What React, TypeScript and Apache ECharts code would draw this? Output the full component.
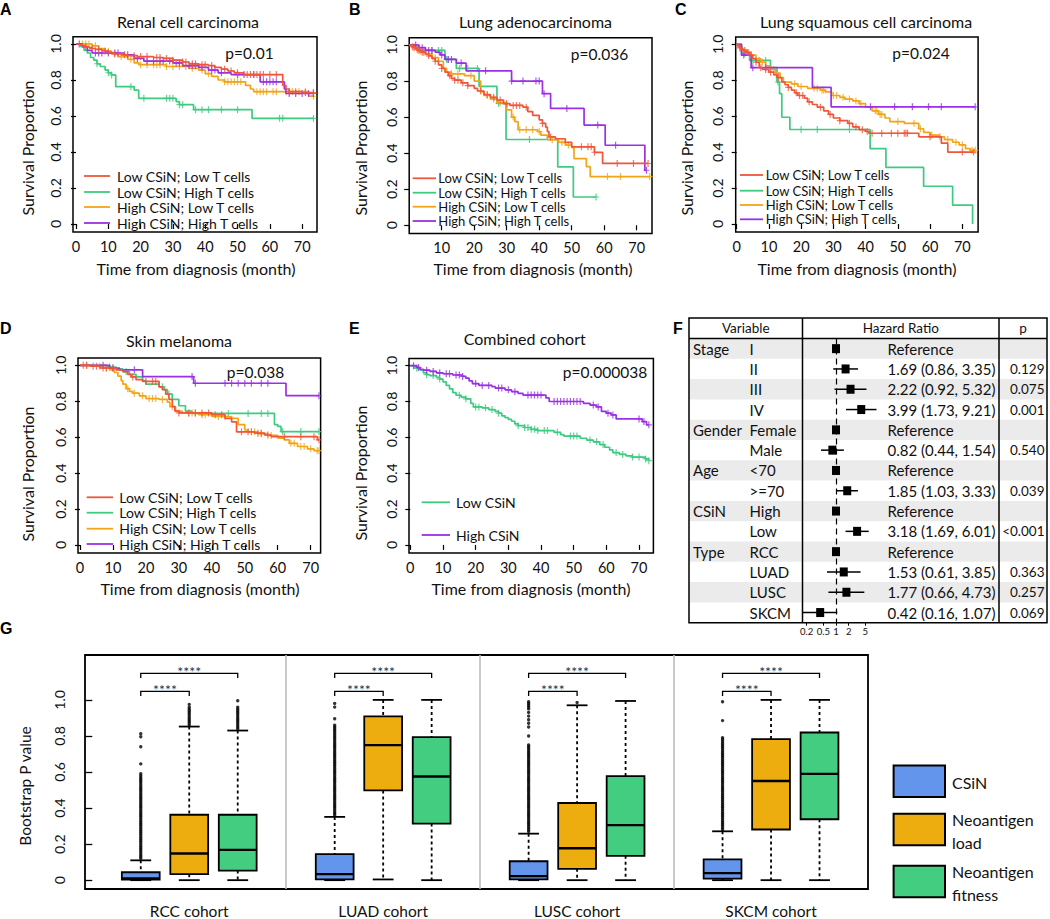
import React, { useEffect, useRef } from 'react';
import * as echarts from 'echarts';

const FONT = 'Lato, "Open Sans", "DejaVu Sans", sans-serif';
const INK = '#111111';

// ---------------- Kaplan-Meier panels ----------------
const KM_LEGEND_4 = ['Low CSiN; Low T cells', 'Low CSiN; High T cells', 'High CSiN; Low T cells', 'High CSiN; High T cells'];
const KM_LEGEND_2 = ['Low CSiN', 'High CSiN'];
const KM_TITLES = ['Renal cell carcinoma', 'Lung adenocarcinoma', 'Lung squamous cell carcinoma', 'Skin melanoma', 'Combined cohort'];
const KM_LETTERS = ['A', 'B', 'C', 'D', 'E'];
const KM_P = ['p=0.01', 'p=0.036', 'p=0.024', 'p=0.038', 'p=0.000038'];
const KM_X_TICKS = [0, 10, 20, 30, 40, 50, 60, 70];
const KM_Y_TICKS = [0, 0.2, 0.4, 0.6, 0.8, 1];
const KM_X_NAME = 'Time from diagnosis (month)';
const KM_Y_NAME = 'Survival Proportion';

// A: Renal cell carcinoma  [time, survival] at events ; censor times
const A_LL = [[0,1],[1,0.995],[2,0.99],[3,0.985],[4,0.98],[5,0.975],[6,0.97],[8,0.965],[9,0.96],[10,0.955],[11,0.95],[12,0.945],[14,0.94],[16,0.935],[19,0.93],[24,0.925],[27,0.92],[30,0.91],[33,0.9],[35,0.89],[38,0.885],[41,0.88],[43,0.87],[45,0.86],[47,0.85],[49,0.84],[52,0.83],[64,0.77],[65,0.75],[66,0.735],[70,0.73]];
const A_LL_C = [3,5,7,9,12,15,18,20,22,25,26,28,30,33,34,36,37,39,40,42,46,48,50,53,54,55,56,57,58,60,62,66,68,71,73.5];
const A_LH = [[0,1],[1.5,0.985],[2.5,0.965],[3.5,0.95],[4.5,0.925],[5.5,0.91],[6.5,0.89],[7.5,0.875],[9,0.855],[10,0.84],[11,0.828],[12.3,0.763],[18,0.744],[19.4,0.698],[31,0.68],[32,0.663],[36.4,0.635],[54.5,0.587]];
const A_LH_C = [6.5,10,11,17,21,28,29,30,32,33,37,39,41,45,50,63,64,73.5];
const A_HL = [[0,1],[5,0.99],[7,0.975],[9,0.96],[11,0.945],[13,0.93],[16,0.915],[18,0.895],[19.5,0.885],[28,0.875],[35,0.865],[38,0.855],[40,0.835],[42,0.82],[44,0.8],[46,0.79],[52.5,0.77],[54,0.75],[55,0.735],[72,0.71]];
const A_HL_C = [2,3,4,6,10,14,17,20,22,24,25,26,28,30,32,34,36,39,41,46,47,48,49,50,51,56,57,58,59,61,62,65,67,69,71,73.5];
const A_HH = [[0,1],[2,0.985],[3.5,0.965],[5,0.95],[15,0.94],[18,0.92],[21,0.905],[30,0.895],[33,0.88],[38,0.87],[41,0.855],[44,0.84],[48,0.83],[57,0.79],[64.5,0.75],[65,0.725]];
const A_HH_C = [1,6,7,8,10,12,13,16,19,22,24,26,27,29,31,32,35,36,37,39,42,43,45,50,52,55,58,59,60,61,62,66,68,70,72,73.5];

// B: Lung adenocarcinoma
const B_LL = [[0,1],[0.5,0.995],[1,0.99],[1.5,0.985],[2,0.98],[2.5,0.975],[3,0.97],[3.5,0.965],[4,0.96],[5,0.95],[6,0.94],[7,0.925],[8,0.91],[9,0.89],[10,0.87],[11,0.85],[12,0.83],[13,0.815],[14,0.805],[16,0.79],[18,0.775],[20,0.76],[21,0.745],[23,0.725],[25,0.71],[27,0.695],[29,0.675],[31,0.665],[35,0.655],[36.5,0.63],[38,0.61],[40,0.585],[41,0.565],[42,0.545],[42.5,0.52],[43,0.49],[45,0.48],[48,0.46],[50,0.435],[57,0.405],[59.5,0.343]];
const B_LL_C = [1,1.5,2.5,3,4,4.5,6,8,10,12.5,14,15,16.5,18,22,24,26,28,30,32,33,34,36,41,43.5,53,55,56,57,64,69,73.5];
const B_LH = [[0,1],[2,0.985],[3,0.97],[11,0.92],[14.5,0.87],[21.5,0.77],[27,0.676],[29.8,0.476],[45.7,0.324],[50.5,0.157]];
const B_LH_C = [5,7,9,10,11.5,12,15.5,18,21,27.5,37,57.5];
const B_HL = [[0,1],[1,0.99],[2,0.98],[3,0.965],[5,0.95],[7,0.93],[9,0.91],[10.5,0.87],[11.5,0.85],[13,0.84],[17,0.83],[20,0.8],[22,0.74],[23,0.72],[25,0.7],[27,0.68],[30,0.64],[31.5,0.6],[32.5,0.575],[33.5,0.53],[39.5,0.52],[40.5,0.5],[42.5,0.475],[46,0.46],[48,0.445],[50,0.43],[50.7,0.37],[54.5,0.325],[55.7,0.27]];
const B_HL_C = [1.5,3.5,6,8,13,15,19,24,26,28,32,34,36,38,40,44,47,49,61,65,74];
const B_HH = [[0,1],[3,0.985],[5,0.97],[8,0.96],[9.5,0.945],[11,0.92],[14.5,0.9],[17.5,0.857],[31.5,0.8],[41,0.73],[43.5,0.648],[53.8,0.556],[60.3,0.444],[72.5,0.305]];
const B_HH_C = [2,4,6,7,10,12,13,16,23.5,31.5,35,39,40,41.5,48.5,58,63.5,73];

// C: Lung squamous cell carcinoma
const C_LL = [[0,1],[0.5,0.99],[1,0.98],[1.5,0.975],[2,0.965],[3,0.955],[4,0.94],[5,0.92],[6,0.9],[7,0.87],[8,0.86],[10,0.845],[11.5,0.83],[12.5,0.815],[14,0.79],[15,0.775],[16,0.76],[17,0.745],[18,0.73],[19,0.715],[21,0.7],[22,0.68],[23.5,0.665],[25,0.65],[27,0.63],[28.5,0.61],[30,0.59],[32,0.575],[34.5,0.56],[36,0.54],[38,0.525],[40,0.515],[41,0.505],[56.5,0.485],[63.5,0.45],[65.5,0.4]];
const C_LL_C = [1,2.5,3.5,4.5,6,7.5,9,10.5,13,16,18.5,19.5,20.5,22.5,26,29,32,35,37,39,40.5,42,45,48,50,52,52.5,53,60,70,73.5];
const C_LH = [[0,1],[1.5,0.95],[4,0.91],[10.5,0.87],[12.5,0.79],[13.3,0.725],[14,0.594],[16.5,0.526],[41.4,0.42],[46.3,0.315],[58,0.21],[67,0.105],[73.2,0]];
const C_LH_C = [2.5,5,7,9,12.8,20,25,35];
const C_HL = [[0,1],[0.5,0.985],[1.5,0.97],[3,0.955],[4.5,0.94],[6,0.92],[7.5,0.9],[9,0.88],[10.5,0.86],[12,0.84],[13.5,0.815],[14.5,0.79],[17,0.78],[19,0.765],[22,0.755],[26,0.745],[27.5,0.735],[29.5,0.715],[32,0.705],[33.5,0.695],[36,0.685],[38,0.67],[40,0.65],[42,0.63],[44,0.61],[46,0.59],[47.5,0.57],[52,0.56],[56.5,0.53],[58,0.51],[60,0.495],[63,0.485],[64.5,0.47],[67,0.455],[69,0.44],[71,0.42],[72.5,0.41]];
const C_HL_C = [1,3.5,8,11.5,18,20,24,25,26.5,27,30,31,33,35,37,38.5,43,43.5,44.5,45,50,55,57,60.5,63,65.5,68,70,73,74];
const C_HH = [[0,1],[1.5,0.94],[4.5,0.87],[23.5,0.76],[29.3,0.652]];
const C_HH_C = [2.2,5,9,41.5,49,54.5,59.5,63.5,74];

// D: Skin melanoma
const D_LL = [[0,1],[3,0.995],[6,0.985],[11,0.975],[13,0.965],[14.5,0.95],[15.5,0.935],[17,0.92],[19,0.91],[24,0.88],[25,0.865],[26,0.84],[27,0.81],[28,0.77],[28.8,0.745],[30,0.735],[40,0.725],[44,0.705],[46,0.685],[47.5,0.63],[53,0.622],[56,0.612],[58,0.603],[72,0.585]];
const D_LL_C = [1,2,4,5,7,8,10,16,20,22,23,30,33,35,37,39,41,43,49,51,52,54,55,57,62,67,71,72.5];
const D_LH = [[0,1],[8,0.99],[11,0.98],[13,0.965],[15,0.95],[17,0.935],[19,0.915],[20,0.895],[24,0.88],[25.5,0.865],[26.5,0.84],[28,0.81],[30,0.775],[32,0.745],[34,0.732],[59,0.67],[60,0.66],[61,0.631]];
const D_LH_C = [9,14,25,27,45,51,55,57,61.5,67,72.5];
const D_HL = [[0,1],[4,0.995],[7,0.985],[9,0.975],[10.5,0.96],[11.5,0.94],[12.5,0.915],[13,0.895],[14,0.87],[15,0.855],[16,0.845],[18,0.83],[20,0.815],[24,0.81],[26.5,0.795],[27.3,0.77],[29,0.745],[31,0.735],[36,0.725],[40,0.715],[46,0.705],[48,0.67],[50,0.64],[51,0.63],[54,0.62],[57,0.61],[60,0.595],[62,0.585],[63.5,0.566],[66,0.548],[69,0.535],[71,0.525]];
const D_HL_C = [2,6,8,14.5,16.5,19,21,22,23,25,28,33,34,35,37,38,42,44,53,55,58,64,65,67,68,70,72,72.5];
const D_HH = [[0,1],[9,0.985],[12,0.975],[19,0.937],[34.5,0.9],[62.5,0.831]];
const D_HH_C = [7,10,16.5,34,35,44,46,48,50,52,55,57,72.5];

// E: Combined cohort
const E_LOW = [[0,1],[1,0.995],[2,0.985],[3,0.975],[4,0.96],[5,0.95],[6,0.945],[8,0.935],[9,0.925],[10,0.91],[11,0.89],[12,0.87],[13,0.85],[14,0.835],[15.5,0.825],[17,0.815],[18.5,0.79],[19.3,0.77],[22,0.765],[24,0.755],[26,0.745],[27,0.735],[28,0.72],[29,0.71],[30,0.7],[31,0.69],[32,0.675],[33,0.665],[35,0.655],[37,0.645],[39,0.638],[44,0.628],[46,0.615],[47,0.607],[52,0.595],[54,0.585],[56,0.575],[58,0.56],[59.5,0.545],[61,0.53],[62,0.515],[64,0.505],[66,0.497],[68,0.49],[72,0.48],[73,0.47]];
const E_LOW_C = [2,5,7,9,15,17,20,21,23,25,27,33,35,36,37,38,39,41,42,45,49,50,51,55,57,59,63,65,68,70,72,73];
const E_HIGH = [[0,1],[2,0.99],[3,0.98],[4,0.975],[6,0.968],[8,0.96],[10,0.955],[13,0.948],[16,0.94],[17,0.93],[18,0.915],[19,0.9],[21,0.89],[25,0.883],[26,0.875],[29,0.865],[31,0.855],[33,0.845],[34.5,0.836],[41.5,0.82],[42.5,0.8],[53,0.79],[55,0.78],[57,0.77],[58.5,0.745],[60,0.735],[61.5,0.725],[63,0.703],[71,0.688],[72.3,0.67]];
const E_HIGH_C = [1,2.5,5,7,9,11,12,14,15,16,20,22,24,27,28,30,32,36,37,38,39,40,44,45,46,47,48,49,50,51,52,56,57.5,60.5,62,70,71.5,73];

// ---------------- Forest table (F) ----------------
const F_HEADERS = ['Variable', 'Hazard Ratio', 'p'];
const F_VAR = ['Stage', '', '', '', 'Gender', '', 'Age', '', 'CSiN', '', 'Type', '', '', ''];
const F_LEVEL = ['I', 'II', 'III', 'IV', 'Female', 'Male', '<70', '>=70', 'High', 'Low', 'RCC', 'LUAD', 'LUSC', 'SKCM'];
const F_HR = [1, 1.69, 2.22, 3.99, 1, 0.82, 1, 1.85, 1, 3.18, 1, 1.53, 1.77, 0.42];
const F_LO = [NaN, 0.86, 0.92, 1.73, NaN, 0.44, NaN, 1.03, NaN, 1.69, NaN, 0.61, 0.66, 0.16];
const F_HI = [NaN, 3.35, 5.32, 9.21, NaN, 1.54, NaN, 3.33, NaN, 6.01, NaN, 3.85, 4.73, 1.07];
const F_P = ['', '0.129', '0.075', '0.001', '', '0.540', '', '0.039', '', '<0.001', '', '0.363', '0.257', '0.069'];
const F_TICKS = [0.2, 0.5, 1, 2, 5];

// ---------------- Box plots (G) ----------------
const G_GROUPS = ['RCC cohort', 'LUAD cohort', 'LUSC cohort', 'SKCM cohort'];
const G_METHODS = ['CSiN', 'Neoantigen load', 'Neoantigen fitness'];
const G_Y_TICKS = [0, 0.2, 0.4, 0.6, 0.8, 1];
const G_Y_NAME = 'Bootstrap P value';
const G_SIG = '****';
const G_SIG_LEVELS = [1.047, 1.147];
// [lower whisker, Q1, median, Q3, upper whisker] for CSiN, load, fitness
const RCC_BOX = [[0, 0.003, 0.01, 0.044, 0.11], [0, 0.033, 0.148, 0.363, 0.852], [0, 0.053, 0.168, 0.363, 0.83]];
const LUAD_BOX = [[0, 0.004, 0.033, 0.144, 0.351], [0.004, 0.498, 0.749, 0.909, 1.0], [0, 0.314, 0.575, 0.793, 1.0]];
const LUSC_BOX = [[0, 0.004, 0.022, 0.105, 0.258], [0, 0.063, 0.177, 0.428, 0.97], [0, 0.135, 0.305, 0.577, 0.994]];
const SKCM_BOX = [[0, 0.009, 0.039, 0.115, 0.271], [0, 0.281, 0.55, 0.782, 1.0], [0, 0.338, 0.59, 0.819, 1.0]];
const RCC_OUT_CSIN = [0.812,0.795,0.74,0.645,0.59,0.58,0.57,0.56,0.55,0.54,0.53,0.52,0.51,0.5,0.49,0.48,0.47,0.46,0.45,0.44,0.43,0.42,0.41,0.4,0.39,0.38,0.37,0.36,0.35,0.34,0.33,0.32,0.31,0.3,0.29,0.28,0.27,0.26,0.25,0.24,0.23,0.22,0.21,0.2,0.19,0.18,0.17,0.16,0.15,0.14,0.13,0.12];
const RCC_OUT_LOAD = [0.86,0.87,0.88,0.89,0.9,0.91,0.92,0.93,0.94,0.95,0.96,0.975];
const RCC_OUT_FIT = [0.84,0.85,0.86,0.87,0.88,0.89,0.9,0.91,0.92,0.93,0.94,0.95,0.96,0.995];
const LUAD_OUT_CSIN = [0.98,0.96,0.895,0.86,0.85,0.84,0.83,0.82,0.81,0.8,0.79,0.78,0.77,0.76,0.75,0.74,0.73,0.72,0.71,0.7,0.69,0.68,0.67,0.66,0.65,0.64,0.63,0.62,0.61,0.6,0.59,0.58,0.57,0.56,0.55,0.54,0.53,0.52,0.51,0.5,0.49,0.48,0.47,0.46,0.45,0.44,0.43,0.42,0.41,0.4,0.39,0.38,0.37,0.36];
const LUSC_OUT_CSIN = [0.99,0.98,0.97,0.96,0.95,0.93,0.91,0.89,0.87,0.85,0.8,0.75,0.74,0.73,0.72,0.71,0.7,0.69,0.68,0.67,0.66,0.65,0.64,0.63,0.62,0.61,0.6,0.59,0.58,0.57,0.56,0.55,0.54,0.53,0.52,0.51,0.5,0.49,0.48,0.47,0.46,0.45,0.44,0.43,0.42,0.41,0.4,0.39,0.38,0.37,0.36,0.35,0.34,0.33,0.32,0.31,0.3,0.29,0.28,0.27];
const LUSC_OUT_LOAD = [0.985];
const SKCM_OUT_CSIN = [0.99,0.885,0.79,0.78,0.77,0.76,0.75,0.74,0.73,0.72,0.71,0.7,0.69,0.68,0.67,0.66,0.65,0.64,0.63,0.62,0.61,0.6,0.59,0.58,0.57,0.56,0.55,0.54,0.53,0.52,0.51,0.5,0.49,0.48,0.47,0.46,0.45,0.44,0.43,0.42,0.41,0.4,0.39,0.38,0.37,0.36,0.35,0.34,0.33,0.32,0.31,0.3,0.29,0.28];

// ---------------- styles / layout ----------------
const KM_COLORS_4 = ['#F0563A', '#3CCB7F', '#F2A516', '#9B30E6'];
const KM_COLORS_2 = ['#3CCB7F', '#9B30E6'];
const G_COLORS = ['#6495ED', '#EEAD0E', '#43CD80'];
const PLUS = 'path://M4,0H6V10H4Z M0,4.2H10V5.8H0Z';

const KM_LAYOUT = [
  { grid: { left: 73, top: 36.8, width: 244, height: 195.3 }, x: [-0.93, 74.6], hideZero: false, letter: [0, 9], title: [188, 21], p: [249.5, 53], yName: [27, 148], xName: [196, 268], leg: { x1: 84, x2: 110, tx: 117, fs: 14, ys: [176, 192, 207, 223] } },
  { grid: { left: 409.2, top: 37.8, width: 242.8, height: 195.6 }, x: [0, 74.7], hideZero: true, letter: [349, 9], title: [535.5, 21], p: [599.5, 54], yName: [360, 148], xName: [533, 268], leg: { x1: 412.7, x2: 436, tx: 438.3, fs: 13, ys: [178.3, 192.7, 206.7, 221] } },
  { grid: { left: 735.7, top: 37.1, width: 242.4, height: 195 }, x: [-0.3, 74.9], hideZero: false, letter: [675, 9], title: [866, 21], p: [921, 53], yName: [686, 148], xName: [857, 268], leg: { x1: 740, x2: 763, tx: 765.7, fs: 13, ys: [175, 190.7, 205, 219.3] } },
  { grid: { left: 78, top: 358.1, width: 242.6, height: 195 }, x: [-0.6, 73], hideZero: false, letter: [0, 328], title: [179, 340], p: [255.5, 372], yName: [27, 474], xName: [200, 588], leg: { x1: 86.7, x2: 113, tx: 119.3, fs: 14, ys: [497.3, 512.7, 528.7, 544] } },
  { grid: { left: 409, top: 358.5, width: 244.4, height: 194.5 }, x: [-0.4, 74.4], hideZero: false, letter: [349, 328], title: [524.7, 338.3], p: [605, 372], yName: [360, 473], xName: [531, 588], leg: { x1: 421.7, x2: 450, tx: 456, fs: 14, ys: [502.3, 535] } },
];

const KM_CURVES = [
  [[A_LL, A_LL_C], [A_LH, A_LH_C], [A_HL, A_HL_C], [A_HH, A_HH_C]],
  [[B_LL, B_LL_C], [B_LH, B_LH_C], [B_HL, B_HL_C], [B_HH, B_HH_C]],
  [[C_LL, C_LL_C], [C_LH, C_LH_C], [C_HL, C_HL_C], [C_HH, C_HH_C]],
  [[D_LL, D_LL_C], [D_LH, D_LH_C], [D_HL, D_HL_C], [D_HH, D_HH_C]],
  [[E_LOW, E_LOW_C], [E_HIGH, E_HIGH_C]],
];

function survAt(ev: number[][], t: number) {
  let s = 1;
  for (const p of ev) if (p[0] <= t) s = p[1];
  return s;
}
function curvePoints(ev: number[][], cens: number[]) {
  const pts = ev.map((p) => [p[0], p[1]]);
  cens.forEach((c) => pts.push([c, survAt(ev, c)]));
  pts.sort((a, b) => a[0] - b[0]);
  return pts;
}

function txt(text: string, x: number, y: number, size: number, o: any = {}) {
  const align = o.align || 'center';
  const va = o.va || 'middle';
  return {
    type: 'text', x, y, z: 30, silent: true, rotation: o.rot || 0,
    style: {
      text, fill: o.fill || INK, fontSize: size, fontFamily: o.family || FONT, fontWeight: o.weight || 'normal',
      align, verticalAlign: va, textAlign: align, textVerticalAlign: va, lineHeight: o.lh,
    },
  };
}
function seg(x1: number, y1: number, x2: number, y2: number, o: any = {}) {
  return { type: 'line', z: o.z ?? 30, silent: true, shape: { x1, y1, x2, y2 }, style: { stroke: o.stroke || '#000', lineWidth: o.w || 1.5, lineDash: o.dash } };
}
function box(x: number, y: number, w: number, h: number, o: any = {}) {
  return { type: 'rect', z: o.z ?? 30, silent: true, shape: { x, y, width: w, height: h }, style: { fill: o.fill || 'none', stroke: o.stroke || null, lineWidth: o.w || 0 } };
}

function buildOption() {
  const grids: any[] = [];
  const xAxes: any[] = [];
  const yAxes: any[] = [];
  const series: any[] = [];
  const graphics: any[] = [];

  // ----- KM panels
  KM_LAYOUT.forEach((L, gi) => {
    grids.push({ ...L.grid, show: true, borderColor: '#000', borderWidth: 1.5, backgroundColor: 'transparent' });
    xAxes.push({
      gridIndex: gi, type: 'value', min: L.x[0], max: L.x[1],
      axisLine: { show: false }, splitLine: { show: false },
      axisTick: { show: true, length: 5, customValues: KM_X_TICKS, lineStyle: { color: '#000', width: 1.2 } },
      axisLabel: { customValues: L.hideZero ? KM_X_TICKS.slice(1) : KM_X_TICKS, fontSize: 14.5, fontFamily: FONT, color: INK, margin: 7 },
    });
    yAxes.push({
      gridIndex: gi, type: 'value', min: -0.045, max: 1.04,
      axisLine: { show: false }, splitLine: { show: false },
      axisTick: { show: true, length: 5, customValues: KM_Y_TICKS, lineStyle: { color: '#000', width: 1.2 } },
      axisLabel: { customValues: KM_Y_TICKS, rotate: 90, fontSize: 14, fontFamily: FONT, color: INK, margin: 11, formatter: (v: number) => (v === 0 ? '0' : v.toFixed(1)) },
    });
    const curves = KM_CURVES[gi];
    const colors = curves.length === 2 ? KM_COLORS_2 : KM_COLORS_4;
    const names = curves.length === 2 ? KM_LEGEND_2 : KM_LEGEND_4;
    const zOrder = curves.length === 2 ? [4, 5] : [6, 3, 4, 5];
    curves.forEach((c, ci) => {
      const ev = c[0] as number[][];
      const cens = c[1] as number[];
      series.push({
        type: 'line', name: names[ci], xAxisIndex: gi, yAxisIndex: gi, step: 'end', data: curvePoints(ev, cens),
        showSymbol: false, symbol: 'none', silent: true, z: zOrder[ci],
        lineStyle: { color: colors[ci], width: 1.7 }, itemStyle: { color: colors[ci] },
      });
      series.push({
        type: 'scatter', name: names[ci] + ' censored', xAxisIndex: gi, yAxisIndex: gi, silent: true, z: zOrder[ci],
        data: cens.map((t) => [t, survAt(ev, t)]), symbol: PLUS, symbolSize: [6, 7], itemStyle: { color: colors[ci] },
      });
    });
    // texts
    graphics.push(txt(KM_LETTERS[gi], L.letter[0], L.letter[1], 16, { align: 'left', weight: 'bold', family: '"Liberation Sans", Arial, sans-serif', fill: '#000' }));
    graphics.push(txt(KM_TITLES[gi], L.title[0], L.title[1], 16));
    graphics.push(txt(KM_P[gi], L.p[0], L.p[1], 15.5));
    graphics.push(txt(KM_Y_NAME, L.yName[0], L.yName[1], 16, { rot: Math.PI / 2 }));
    graphics.push(txt(KM_X_NAME, L.xName[0], L.xName[1], 16));
    L.leg.ys.forEach((y, k) => {
      graphics.push(seg(L.leg.x1, y, L.leg.x2, y, { stroke: colors[k], w: 1.8 }));
      graphics.push(txt(names[k], L.leg.tx, y, L.leg.fs, { align: 'left', lh: 13 }));
    });
  });

  // ----- Forest panel F
  const T = { left: 689, right: 1047, top: 318, head: 338.5, rowH: 20.3, c1: 802.5, c2: 999 };
  const nRows = F_LEVEL.length;
  const bottom = T.head + nRows * T.rowH;
  const fgi = grids.length;
  grids.push({ left: 803, top: T.head, width: 82, height: nRows * T.rowH, show: false });
  xAxes.push({
    gridIndex: fgi, type: 'value', min: -0.786, max: 1.167,
    axisLine: { show: false }, splitLine: { show: false },
    axisTick: { show: true, length: 3, customValues: F_TICKS.map((v) => Math.log10(v)), lineStyle: { color: '#000', width: 1 } },
    axisLabel: { customValues: F_TICKS.map((v) => Math.log10(v)), fontSize: 9.5, fontFamily: FONT, color: INK, margin: 4, formatter: (v: number) => String(Math.round(Math.pow(10, v) * 10) / 10) },
  });
  yAxes.push({ gridIndex: fgi, type: 'category', inverse: true, data: F_LEVEL.map((_, i) => String(i)), show: false });
  series.push({
    type: 'custom', name: 'Hazard ratio', xAxisIndex: fgi, yAxisIndex: fgi, silent: true, z: 5,
    data: F_HR.map((hr, i) => {
      const has = isNaN(F_LO[i]) ? 0 : 1;
      return [Math.log10(hr), i, has ? Math.log10(F_LO[i]) : Math.log10(hr), has ? Math.log10(F_HI[i]) : Math.log10(hr), has];
    }),
    encode: { x: 0, y: 1 },
    renderItem: (params: any, api: any) => {
      const i = api.value(1);
      const c = api.coord([api.value(0), i]);
      const children: any[] = [];
      if (api.value(4) === 1) {
        const a = api.coord([api.value(2), i]);
        const b = api.coord([api.value(3), i]);
        children.push({ type: 'line', shape: { x1: a[0], y1: a[1], x2: b[0], y2: b[1] }, style: { stroke: '#000', lineWidth: 1.5 } });
      }
      children.push({ type: 'rect', shape: { x: c[0] - 4, y: c[1] - 4.5, width: 8, height: 9 }, style: { fill: '#000' } });
      return { type: 'group', children };
    },
  });
  series.push({
    type: 'scatter', xAxisIndex: fgi, yAxisIndex: fgi, silent: true, data: [[0, 0]], symbolSize: 0, z: 4,
    markLine: { silent: true, symbol: ['none', 'none'], label: { show: false }, lineStyle: { color: '#000', width: 1.2, type: [6, 4] }, data: [{ xAxis: 0 }] },
  });
  // table graphics
  for (let i = 0; i < nRows; i += 2) {
    graphics.push(box(T.left, T.head + i * T.rowH, T.right - T.left, T.rowH, { fill: '#EBEBEB', z: 0 }));
  }
  graphics.push(box(T.left, T.top, T.right - T.left, bottom - T.top, { stroke: '#000', w: 1.5 }));
  graphics.push(seg(T.left, T.head, T.right, T.head, { w: 1.5 }));
  graphics.push(seg(T.c1, T.top, T.c1, bottom, { w: 1.5 }));
  graphics.push(seg(T.c2, T.top, T.c2, bottom, { w: 1.5 }));
  graphics.push(txt(F_HEADERS[0], (T.left + T.c1) / 2, (T.top + T.head) / 2, 13.5));
  graphics.push(txt(F_HEADERS[1], (T.c1 + T.c2) / 2, (T.top + T.head) / 2, 13.5));
  graphics.push(txt(F_HEADERS[2], (T.c2 + T.right) / 2, (T.top + T.head) / 2, 13.5));
  F_LEVEL.forEach((lv, i) => {
    const y = T.head + (i + 0.5) * T.rowH;
    if (F_VAR[i]) graphics.push(txt(F_VAR[i], 693, y, 15, { align: 'left' }));
    graphics.push(txt(lv, 749.5, y, 15, { align: 'left' }));
    const hrText = isNaN(F_LO[i]) ? 'Reference' : `${F_HR[i].toFixed(2)} (${F_LO[i].toFixed(2)}, ${F_HI[i].toFixed(2)})`;
    graphics.push(txt(hrText, 887.5, y, 15, { align: 'left' }));
    if (F_P[i]) graphics.push(txt(F_P[i], 1044.5, y, 13.5, { align: 'right' }));
  });
  graphics.push(txt('F', 673, 328, 16, { align: 'left', weight: 'bold', family: '"Liberation Sans", Arial, sans-serif', fill: '#000' }));

  // ----- Box plot panel G
  const ggi = grids.length;
  grids.push({ left: 85, top: 655, width: 783, height: 238, show: true, borderColor: '#000', borderWidth: 1.8, backgroundColor: 'transparent' });
  xAxes.push({
    gridIndex: ggi, type: 'value', min: -0.15, max: 16,
    axisLine: { show: false }, splitLine: { show: false }, axisTick: { show: false },
    axisLabel: { customValues: G_GROUPS.map((_, g) => 4 * g + 2), fontSize: 15.5, fontFamily: FONT, color: INK, margin: 14, formatter: (v: number) => G_GROUPS[Math.round((v - 2) / 4)] },
  });
  yAxes.push({
    gridIndex: ggi, type: 'value', min: -0.049, max: 1.249,
    axisLine: { show: false }, splitLine: { show: false },
    axisTick: { show: true, length: 7, customValues: G_Y_TICKS, lineStyle: { color: '#000', width: 1.3 } },
    axisLabel: { customValues: G_Y_TICKS, rotate: 90, fontSize: 14, fontFamily: FONT, color: INK, margin: 19, formatter: (v: number) => (v === 0 ? '0' : v.toFixed(1)) },
  });
  const BOX_STATS = [RCC_BOX, LUAD_BOX, LUSC_BOX, SKCM_BOX];
  const BOX_OUT = [[RCC_OUT_CSIN, RCC_OUT_LOAD, RCC_OUT_FIT], [LUAD_OUT_CSIN, [], []], [LUSC_OUT_CSIN, LUSC_OUT_LOAD, []], [SKCM_OUT_CSIN, [], []]];
  // separators
  series.push({
    type: 'scatter', xAxisIndex: ggi, yAxisIndex: ggi, silent: true, data: [], z: 1,
    markLine: { silent: true, symbol: ['none', 'none'], label: { show: false }, lineStyle: { color: '#BDBDBD', width: 1.6, type: 'solid' }, data: [4, 8, 12].map((v) => ({ xAxis: v })) },
  });
  G_METHODS.forEach((m, mi) => {
    const outs: number[][] = [];
    BOX_OUT.forEach((grp, g) => grp[mi].forEach((v) => outs.push([4 * g + mi + 1, v])));
    series.push({ type: 'scatter', name: m + ' outliers', xAxisIndex: ggi, yAxisIndex: ggi, silent: true, z: 3, data: outs, symbol: 'circle', symbolSize: 3.4, itemStyle: { color: '#000' } });
    series.push({
      type: 'custom', name: m, xAxisIndex: ggi, yAxisIndex: ggi, silent: true, z: 4,
      data: BOX_STATS.map((st, g) => [4 * g + mi + 1, ...st[mi]]),
      encode: { x: 0, y: [1, 2, 3, 4, 5] },
      renderItem: (params: any, api: any) => {
        const x = api.value(0);
        const pMin = api.coord([x, api.value(1)]);
        const pQ1 = api.coord([x, api.value(2)]);
        const pMd = api.coord([x, api.value(3)]);
        const pQ3 = api.coord([x, api.value(4)]);
        const pMax = api.coord([x, api.value(5)]);
        const hw = api.size([0.78, 0])[0] / 2;
        const cw = api.size([0.43, 0])[0] / 2;
        const cx = pMd[0];
        const st = { stroke: '#000', lineWidth: 1.8 };
        return {
          type: 'group', children: [
            { type: 'line', shape: { x1: cx, y1: pMax[1], x2: cx, y2: pQ3[1] }, style: { ...st, lineDash: [3, 3] } },
            { type: 'line', shape: { x1: cx, y1: pQ1[1], x2: cx, y2: pMin[1] }, style: { ...st, lineDash: [3, 3] } },
            { type: 'line', shape: { x1: cx - cw, y1: pMax[1], x2: cx + cw, y2: pMax[1] }, style: st },
            { type: 'line', shape: { x1: cx - cw, y1: pMin[1], x2: cx + cw, y2: pMin[1] }, style: st },
            { type: 'rect', shape: { x: cx - hw, y: pQ3[1], width: 2 * hw, height: pQ1[1] - pQ3[1] }, style: { fill: G_COLORS[mi], stroke: '#000', lineWidth: 1.8 } },
            { type: 'line', shape: { x1: cx - hw, y1: pMd[1], x2: cx + hw, y2: pMd[1] }, style: { stroke: '#000', lineWidth: 2.3 } },
          ],
        };
      },
    });
  });
  // significance brackets
  const brackets: number[][] = [];
  G_GROUPS.forEach((_, g) => {
    brackets.push([4 * g + 1, 4 * g + 2, G_SIG_LEVELS[0]]);
    brackets.push([4 * g + 1, 4 * g + 3, G_SIG_LEVELS[1]]);
  });
  series.push({
    type: 'custom', name: 'significance', xAxisIndex: ggi, yAxisIndex: ggi, silent: true, z: 5, data: brackets,
    encode: { x: [0, 1], y: 2 },
    renderItem: (params: any, api: any) => {
      const a = api.coord([api.value(0), api.value(2)]);
      const b = api.coord([api.value(1), api.value(2)]);
      const d = 4.5;
      return {
        type: 'group', children: [
          { type: 'polyline', shape: { points: [[a[0], a[1] + d], [a[0], a[1]], [b[0], b[1]], [b[0], b[1] + d]] }, style: { stroke: '#000', lineWidth: 1.3, fill: 'none' } },
          { type: 'text', x: (a[0] + b[0]) / 2, y: a[1] - 2, style: { text: G_SIG, fill: '#333', fontSize: 14, fontFamily: FONT, align: 'center', verticalAlign: 'middle', textAlign: 'center', textVerticalAlign: 'middle' } },
        ],
      };
    },
  });
  graphics.push(txt('G', 0, 628, 16, { align: 'left', weight: 'bold', family: '"Liberation Sans", Arial, sans-serif', fill: '#000' }));
  graphics.push(txt(G_Y_NAME, 25, 786, 15.5, { rot: Math.PI / 2 }));
  // legend G
  const legY = [765.6, 813.7, 865.7];
  G_METHODS.forEach((m, mi) => {
    graphics.push(box(893.6, legY[mi], 51.4, 31.5, { fill: G_COLORS[mi], stroke: '#000', w: 2 }));
    graphics.push(txt(m.replace(' ', '\n'), 952, legY[mi] + 17, 16, { align: 'left', lh: 23 }));
  });

  return {
    animation: false,
    backgroundColor: '#ffffff',
    textStyle: { fontFamily: FONT },
    grid: grids,
    xAxis: xAxes,
    yAxis: yAxes,
    series,
    graphic: { elements: graphics },
  };
}

export default function App() {
  const ref = useRef<HTMLDivElement>(null);
  useEffect(() => {
    if (!ref.current) return;
    const chart = echarts.init(ref.current, null, { renderer: 'svg' });
    chart.setOption(buildOption() as any);
    return () => chart.dispose();
  }, []);
  return <div ref={ref} style={{ position: 'absolute', left: 0, top: 0, width: 1050, height: 919, background: '#fff' }} />;
}
